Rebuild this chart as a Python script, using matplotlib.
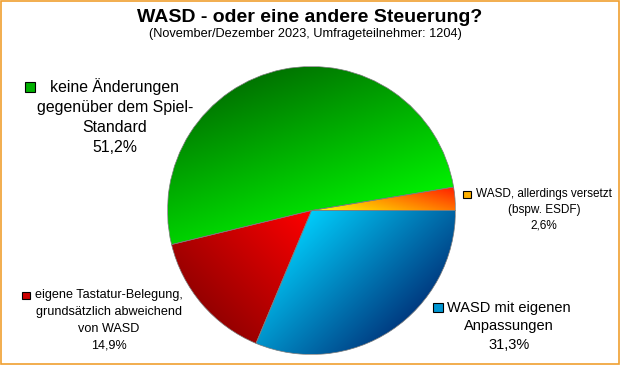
import numpy as np
import matplotlib
matplotlib.use('Agg')
import matplotlib.pyplot as plt
from matplotlib.colors import LinearSegmentedColormap
from matplotlib.patches import Rectangle

plt.rcParams['font.family'] = ['Liberation Sans', 'DejaVu Sans']

# data (counterclockwise from 3 o'clock)
categories = [
    "WASD, allerdings versetzt (bspw. ESDF)",
    "keine Änderungen gegenüber dem Spiel-Standard",
    "eigene Tastatur-Belegung, grundsätzlich abweichend von WASD",
    "WASD mit eigenen Anpassungen",
]
shares = [2.6, 51.2, 14.9, 31.3]
pct_labels = ["2,6%", "51,2%", "14,9%", "31,3%"]

# gradient (start colour, end colour, direction in degrees) per slice
gradients = [
    ("#ff1e00", "#ffff00", -105),
    ("#007400", "#00f000", -70),
    ("#950000", "#ff0000", 45),
    ("#00ccfa", "#003a80", -45),
]
key_colors = ["#ffb000", "#00b000", "#cc0000", "#0096d2"]

# label layout in pixels: (center x, first baseline, line step, font size, lines)
label_layout = [
    (544, 197, 16.0, 8.5, ["WASD, allerdings versetzt", "(bspw. ESDF)"]),
    (115, 92, 20.0, 11.4, ["keine Änderungen", "gegenüber dem Spiel-", "Standard"]),
    (108.5, 298, 17.0, 9.1, ["eigene Tastatur-Belegung,", "grundsätzlich abweichend", "von WASD"]),
    (509, 312, 18.3, 10.5, ["WASD mit eigenen", "Anpassungen"]),
]
key_boxes = [(463, 191, 8, 7), (25, 82, 10, 10), (22, 292, 8, 7), (433, 303, 10, 9)]

W, H = 620, 365
fig = plt.figure(figsize=(W / 100, H / 100), dpi=100)
fig.patch.set_facecolor('white')

cx, cy, R = 311.5, 210.5, 144
ax = fig.add_axes([(cx - R) / W, (H - cy - R) / H, 2 * R / W, 2 * R / H])

wedges, _ = ax.pie(shares, startangle=0, counterclock=True, radius=1,
                   wedgeprops=dict(facecolor='none', edgecolor='#7a7a7a', linewidth=0.5))

gx, gy = np.meshgrid(np.linspace(-1, 1, 400), np.linspace(-1, 1, 400))
for w, (c0, c1, ang) in zip(wedges, gradients):
    a = np.deg2rad(ang)
    verts = w.get_path().vertices
    proj = verts[:, 0] * np.cos(a) + verts[:, 1] * np.sin(a)
    t = (gx * np.cos(a) + gy * np.sin(a) - proj.min()) / (proj.max() - proj.min())
    cmap = LinearSegmentedColormap.from_list('g', [c0, c1])
    im = ax.imshow(np.clip(t, 0, 1), cmap=cmap, vmin=0, vmax=1, extent=[-1, 1, -1, 1],
                   origin='lower', interpolation='bilinear', zorder=1)
    im.set_clip_path(w)
    w.set_zorder(2)

ax.set_xlim(-1, 1)
ax.set_ylim(-1, 1)
ax.set_aspect('equal')
ax.axis('off')

# overlay in pixel coordinates for texts
ov = fig.add_axes([0, 0, 1, 1])
ov.set_xlim(0, W)
ov.set_ylim(H, 0)
ov.axis('off')
ov.patch.set_alpha(0)

ov.text(310, 22, "WASD - oder eine andere Steuerung?", ha='center', va='baseline',
        fontsize=14, fontweight='bold')
ov.text(305.5, 37.5, "(November/Dezember 2023, Umfrageteilnehmer: 1204)", ha='center',
        va='baseline', fontsize=9.2)

for (x, y0, step, fs, lines), pct, box, kc in zip(label_layout, pct_labels, key_boxes, key_colors):
    for i, line in enumerate(lines + [pct]):
        ov.text(x, y0 + i * step, line, ha='center', va='baseline', fontsize=fs)
    bx, by, bw, bh = box
    ov.add_patch(Rectangle((bx, by), bw, bh, facecolor=kc, edgecolor='black', linewidth=0.8))

ov.add_patch(Rectangle((0.75, 0.75), W - 1.5, H - 1.5, fill=False,
                       edgecolor='#f0a030', linewidth=1.2))

fig.savefig('out.png', dpi=100)
